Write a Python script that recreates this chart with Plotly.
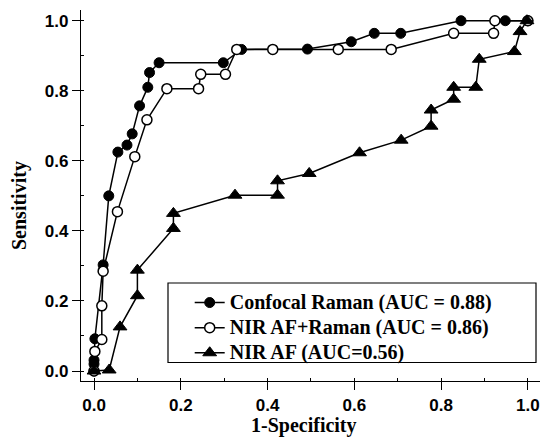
import plotly.graph_objects as go

# Confocal Raman (filled circles)
raman_x = [0.0, 0.0, 0.0, 0.002, 0.021, 0.034, 0.055, 0.076, 0.088, 0.105, 0.124, 0.128, 0.150,
           0.298, 0.340, 0.492, 0.593, 0.646, 0.707, 0.846, 0.948, 1.0]
raman_y = [0.0, 0.02, 0.031, 0.092, 0.303, 0.50, 0.625, 0.645, 0.677, 0.757, 0.810, 0.852, 0.880,
           0.880, 0.918, 0.919, 0.940, 0.964, 0.964, 1.0, 1.0, 1.0]

# NIR AF + Raman (open circles)
combo_x = [0.0, 0.002, 0.018, 0.018, 0.021, 0.054, 0.094, 0.122, 0.168, 0.241, 0.246, 0.303,
           0.329, 0.412, 0.563, 0.685, 0.829, 0.921, 0.924, 1.0]
combo_y = [0.0, 0.056, 0.090, 0.186, 0.285, 0.455, 0.612, 0.717, 0.806, 0.806, 0.847, 0.847,
           0.918, 0.918, 0.918, 0.918, 0.964, 0.964, 1.0, 1.0]

# NIR AF (triangles)
af_x = [0.0, 0.035, 0.060, 0.100, 0.100, 0.183, 0.183, 0.325, 0.423, 0.423, 0.496, 0.612, 0.708,
        0.777, 0.777, 0.829, 0.829, 0.880, 0.888, 0.969, 0.982, 0.998]
af_y = [0.0, 0.003, 0.126, 0.215, 0.288, 0.407, 0.450, 0.502, 0.502, 0.543, 0.564, 0.623, 0.659,
        0.699, 0.745, 0.776, 0.810, 0.810, 0.890, 0.912, 0.969, 1.0]

names = ["Confocal Raman (AUC = 0.88)", "NIR AF+Raman (AUC = 0.86)", "NIR AF (AUC=0.56)"]
x_ticks = [0.0, 0.2, 0.4, 0.6, 0.8, 1.0]
y_ticks = [0.0, 0.2, 0.4, 0.6, 0.8, 1.0]
x_title = "1-Specificity"
y_title = "Sensitivity"

# plot-area pixel geometry (540x437 canvas)
L, R, T, B = 81, 540, 10, 381
PW, PH = R - L, B - T


def px(xp):
    return (xp - L) / PW


def py(yp):
    return (B - yp) / PH


def big(label):
    # legend rows are spaced for 17px text while the text itself is 20px
    return '<span style="font-size:20px">' + label + '</span>'


fig = go.Figure()
line = dict(color="black", width=1.5)
fig.add_trace(go.Scatter(x=raman_x, y=raman_y, name=big(names[0]), mode="lines+markers",
                         line=line, cliponaxis=False,
                         marker=dict(symbol="circle", size=10, color="black",
                                     line=dict(color="black", width=1))))
fig.add_trace(go.Scatter(x=combo_x, y=combo_y, name=big(names[1]), mode="lines+markers",
                         line=line, cliponaxis=False,
                         marker=dict(symbol="circle", size=10, color="white",
                                     line=dict(color="black", width=1.5))))
fig.add_trace(go.Scatter(x=af_x, y=af_y, name=big(names[2]), mode="lines+markers",
                         line=line, cliponaxis=False,
                         marker=dict(symbol="triangle-up", size=12, color="black",
                                     line=dict(color="black", width=1))))

tickfont = dict(family="Liberation Sans", size=17, color="black", weight="bold")
axis_common = dict(showgrid=False, zeroline=False, showline=True, linecolor="black",
                   linewidth=1.3, ticks="outside", ticklen=8, tickwidth=1.3,
                   tickcolor="black", tickfont=tickfont, tickformat=".1f",
                   minor=dict(ticks="inside", ticklen=3, tickwidth=1.2, tickcolor="black",
                              dtick=0.1, showgrid=False))
fig.update_xaxes(range=[-0.030, 1.028], tickvals=x_ticks, **axis_common)
fig.update_yaxes(range=[-0.0285, 1.0306], tickvals=y_ticks, **axis_common)

title_font = dict(family="Liberation Serif", size=20, color="black", weight="bold")

fig.update_layout(
    width=540, height=437,
    margin=dict(l=L, r=540 - R, t=T, b=437 - B),
    plot_bgcolor="white", paper_bgcolor="white",
    legend=dict(x=px(189.7), y=py(285), xanchor="left", yanchor="top",
                borderwidth=0, bgcolor="rgba(0,0,0,0)",
                font=dict(family="Liberation Serif", size=17, color="black", weight="bold"),
                itemwidth=30),
    shapes=[dict(type="rect", xref="paper", yref="paper",
                 x0=px(168), x1=px(536), y0=py(362.5), y1=py(283),
                 line=dict(color="black", width=1.2), fillcolor="rgba(0,0,0,0)",
                 layer="below")],
    annotations=[
        dict(text=x_title, x=px(304), y=0, xref="paper", yref="paper",
             yshift=-44, showarrow=False, xanchor="center", yanchor="middle",
             font=title_font),
        dict(text=y_title, x=0, y=py(206), xref="paper", yref="paper",
             xshift=-62, showarrow=False, xanchor="center", yanchor="middle", textangle=-90,
             font=title_font),
    ],
)

fig.write_html("out.html")
